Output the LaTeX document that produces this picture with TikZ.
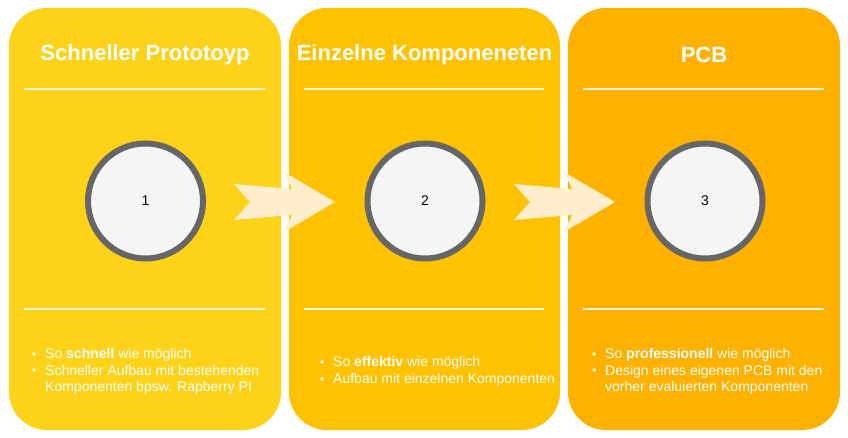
\documentclass[tikz,border=0pt]{standalone}
\usepackage{fontspec}
\setmainfont{Liberation Sans}
\definecolor{pone}{RGB}{253,211,26}
\definecolor{ptwo}{RGB}{255,194,0}
\definecolor{pthree}{RGB}{255,177,0}
\definecolor{arrowfill}{RGB}{255,238,204}
\definecolor{rulecol}{RGB}{255,244,214}
\definecolor{ringcol}{RGB}{102,102,102}
\definecolor{discfill}{RGB}{245,245,245}
\tikzset{
  panel/.style={fill=#1, draw=none, rounded corners=38pt},
  titletext/.style={text=white, font=\fontsize{22}{26}\selectfont\bfseries, inner sep=0pt},
  sep/.style={draw=rulecol, line width=1.8pt},
  disc/.style={circle, draw=ringcol, fill=discfill, line width=6pt, minimum size=115pt, inner sep=0pt, font=\fontsize{14}{16}\selectfont},
  bodytext/.style={text=white, align=left, anchor=west, inner sep=0pt, font=\fontsize{14}{16.5}\selectfont},
  blockarrow/.style={fill=arrowfill, draw=none}
}
\newcommand{\bul}{\makebox[13pt][l]{\raisebox{0.3pt}{\fontsize{12}{12}\selectfont•}}}
\newcommand{\ind}{\hspace*{13pt}}
\begin{document}
\begin{tikzpicture}[x=1pt,y=-1pt]
\useasboundingbox (0,0) rectangle (848,438);
\fill[white] (0,0) rectangle (848,438);
% panels
\path[panel=pone] (9,8) rectangle (281,430);
\path[panel=ptwo] (289,8) rectangle (560,430);
\path[panel=pthree] (568,8) rectangle (840,430);
% titles
\node[titletext] (t1) at (145,55) {Schneller Prototoyp};
\node[titletext] (t2) at (424.5,55) {Einzelne Komponeneten};
\node[titletext] (t3) at (704,55) {PCB};
% rules
\draw[sep] (24,89) -- (265,89);
\draw[sep] (304,89) -- (544,89);
\draw[sep] (583,89) -- (824,89);
\draw[sep] (24,309) -- (265,309);
\draw[sep] (304,309) -- (544,309);
\draw[sep] (583,309) -- (824,309);
% arrows
\foreach \dx in {0,280}{
  \fill[blockarrow, shift={(\dx,0)}] (234,184) -- (292,189) -- (284,172) -- (335,202) -- (284,232) -- (292,215) -- (234,220) -- (250,202) -- cycle;
}
% circles
\node[disc] (c1) at (145.5,201) {1};
\node[disc] (c2) at (425,201) {2};
\node[disc] (c3) at (705,201) {3};
% body texts
\node[bodytext] (b1) at (32,371.5) {\bul So \textbf{schnell} wie möglich\\\bul Schneller Aufbau mit bestehenden\\\ind Komponenten bpsw. Rapberry PI};
\node[bodytext] (b2) at (320,371.5) {\bul So \textbf{effektiv} wie möglich\\\bul Aufbau mit einzelnen Komponenten};
\node[bodytext] (b3) at (592,371.5) {\bul So \textbf{professionell} wie möglich\\\bul Design eines eigenen PCB mit den\\\ind vorher evaluierten Komponenten};
\end{tikzpicture}
\end{document}
